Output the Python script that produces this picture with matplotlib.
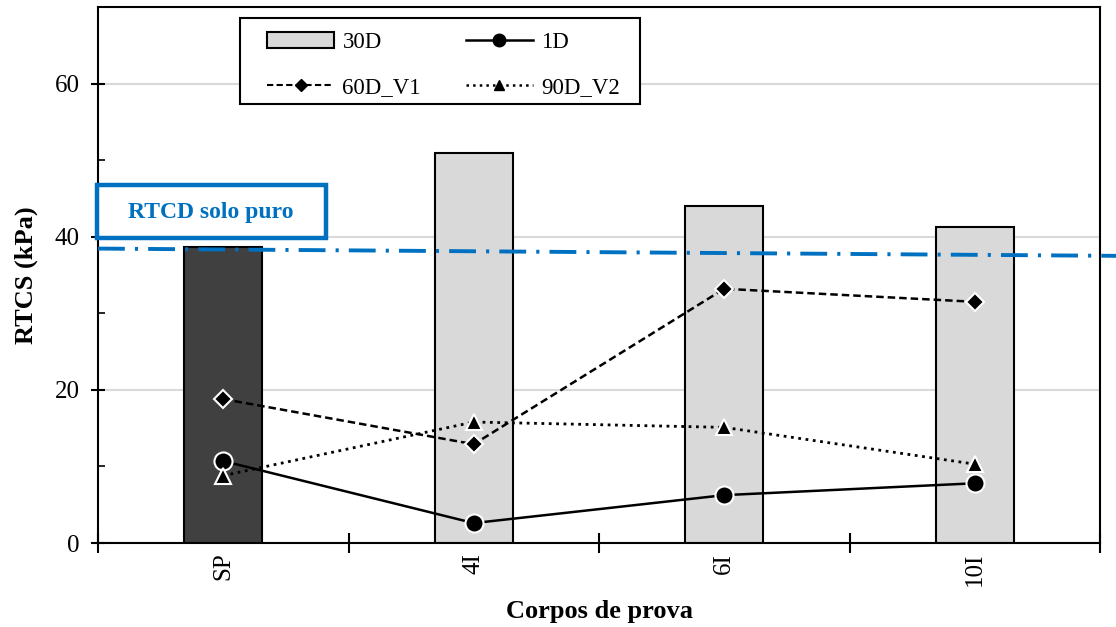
import numpy as np
import matplotlib
matplotlib.use("Agg")
import matplotlib.pyplot as plt
from matplotlib.lines import Line2D
from matplotlib.patches import Patch, Rectangle
from matplotlib.ticker import MultipleLocator

plt.rcParams['font.family'] = ['Liberation Serif', 'DejaVu Serif']

categorias = ["SP", "4I", "6I", "10I"]
rtcs_30d = [38.6, 50.9, 44.0, 41.3]
rtcs_1d = [10.7, 2.6, 6.25, 7.8]
rtcs_60d_v1 = [18.8, 12.9, 33.2, 31.5]
rtcs_90d_v2 = [8.8, 15.8, 15.1, 10.3]
# linha do solo puro (tendencia) nos extremos
rtcd_x = [0.0, 4.07]
rtcd_y = [38.45, 37.5]

x = np.arange(len(categorias)) + 0.5

W, H = 1116, 627
fig = plt.figure(figsize=(W/100, H/100), dpi=100)
ax = fig.add_axes([98/W, 1-543/H, (1100-98)/W, (543-7)/H])

cores = ["#404040"] + ["#d9d9d9"] * 3
ax.bar(x, rtcs_30d, width=0.312, color=cores, edgecolor="black", linewidth=1.5, zorder=2)

ax.plot(x, rtcs_1d, "-", color="black", lw=1.8, marker="o", ms=13,
        mfc="black", mec="white", mew=1.5, zorder=4)
ax.plot(x, rtcs_60d_v1, "--", color="black", lw=1.8, marker="D", ms=9,
        mfc="black", mec="white", mew=1.5, zorder=4, dashes=(3, 1.6))
ax.plot(x, rtcs_90d_v2, ":", color="black", lw=2.0, marker="^", ms=11,
        mfc="black", mec="white", mew=1.5, zorder=4)

ax.add_line(Line2D(rtcd_x, rtcd_y, color="#0070C0", lw=2.8, ls=(0, (6.9, 2.6, 0.8, 2.6)),
                   clip_on=False, zorder=3))

ax.set_xlim(0, 4)
ax.set_ylim(0, 70)
ax.yaxis.set_major_locator(MultipleLocator(20))
ax.yaxis.set_minor_locator(MultipleLocator(10))
ax.set_xticks([0, 1, 2, 3, 4])
ax.set_xticklabels([])
ax.set_xticks(x, minor=True)
ax.set_xticklabels(categorias, minor=True, rotation=90)
ax.tick_params(axis="x", which="minor", length=0, pad=7, labelsize=18)
ax.tick_params(axis="x", which="major", direction="inout", length=14, width=1.5)
ax.tick_params(axis="y", which="major", direction="inout", length=10, width=1.5, labelsize=18, pad=8)
ax.tick_params(axis="y", which="minor", direction="in", length=5, width=1.2)
ax.grid(axis="y", which="major", color="#d9d9d9", lw=1.5, zorder=0)
ax.set_axisbelow(True)
for s in ax.spines.values():
    s.set_linewidth(1.5)

ax.set_ylabel("RTCS (kPa)", fontsize=19, fontweight="bold", labelpad=12)
ax.set_xlabel("Corpos de prova", fontsize=19, fontweight="bold", labelpad=10)

# caixa "RTCD solo puro"
fig.patches.append(Rectangle((97/W, 1-238/H), (326-97)/W, (238-185)/H, transform=fig.transFigure,
                             fc="white", ec="#0070C0", lw=3.2, zorder=6))
fig.text(211/W, 1-212/H, "RTCD solo puro", color="#0070C0", fontsize=17,
         fontweight="bold", ha="center", va="center", zorder=7)

# legenda
fig.patches.append(Rectangle((240/W, 1-104/H), 400/W, 86/H, transform=fig.transFigure,
                             fc="white", ec="black", lw=1.5, zorder=6))
handles = [
    Patch(facecolor="#d9d9d9", edgecolor="black", linewidth=1.5),
    Line2D([], [], ls="--", color="black", lw=1.5, marker="D", ms=6, dashes=(3, 1.6)),
    Line2D([], [], ls="-", color="black", lw=1.8, marker="o", ms=9),
    Line2D([], [], ls=":", color="black", lw=1.8, marker="^", ms=7),
]
labels = ["30D", "60D_V1", "1D", "90D_V2"]
leg = fig.legend(handles, labels, ncol=2, loc="upper left", bbox_to_anchor=(245/W, 1-10/H),
                 fontsize=16.5, frameon=False, handlelength=2.95, columnspacing=1.95,
                 handletextpad=0.35, borderpad=0.45, labelspacing=1.07)
leg.set_zorder(7)

fig.savefig("out.png", dpi=100)
